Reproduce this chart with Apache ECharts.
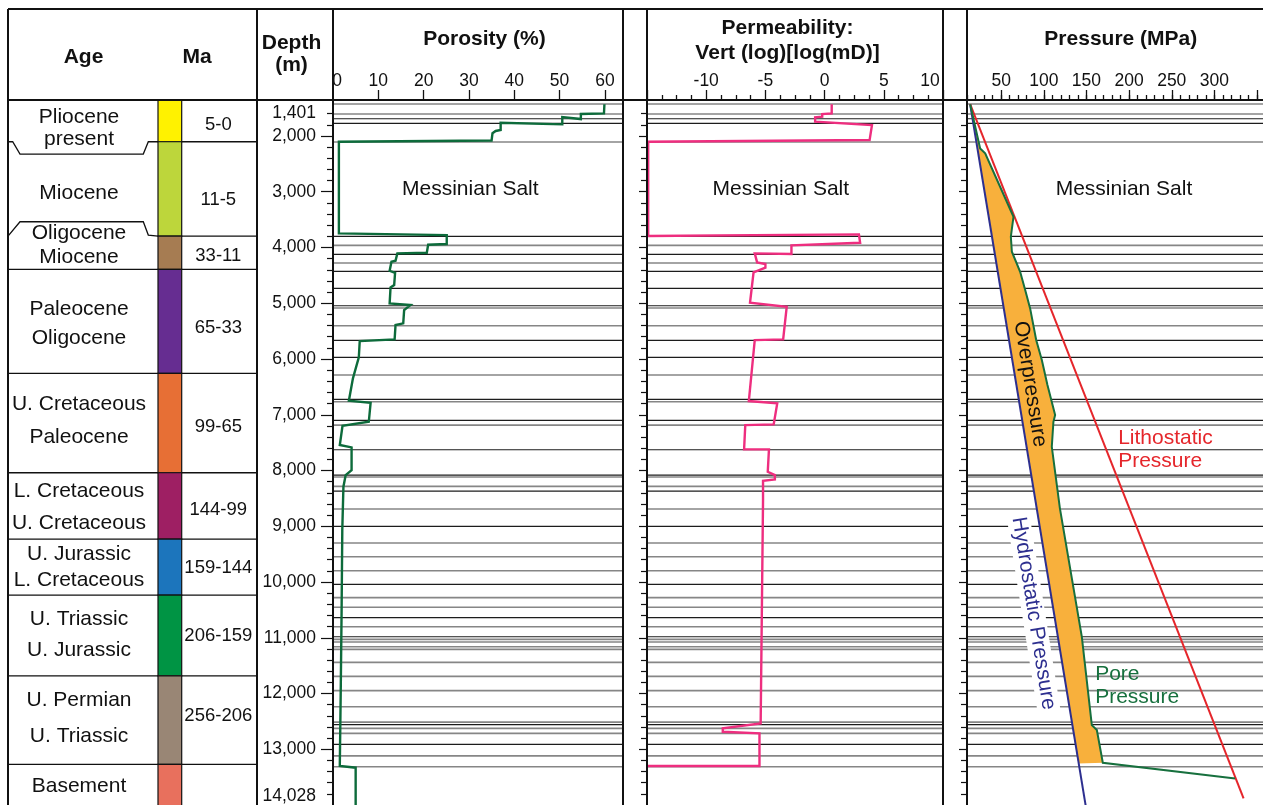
<!DOCTYPE html>
<html>
<head>
<meta charset="utf-8">
<title>Well log: porosity, permeability and pressure</title>
<script src="https://cdn.jsdelivr.net/npm/echarts@6/dist/echarts.min.js"></script>
<style>
  html, body { margin: 0; padding: 0; background: #ffffff; }
  #chart { width: 1263px; height: 805px; }
</style>
</head>
<body>
<div id="chart"></div>
<script>
// ---------------- data ----------------
const depthMin = 1401;      // sea floor (m)
const depthMax = 14028;     // total depth (m)
const depthLabels = [1401, 2000, 3000, 4000, 5000, 6000, 7000, 8000, 9000, 10000, 11000, 12000, 13000, 14028];
const depthMajorTicks = [2000, 3000, 4000, 5000, 6000, 7000, 8000, 9000, 10000, 11000, 12000, 13000];

// stratigraphic column, top to bottom
const unitAge = [
  ['Pliocene', 'present'], ['Miocene'], ['Oligocene', 'Miocene'], ['Paleocene', 'Oligocene'],
  ['U. Cretaceous', 'Paleocene'], ['L. Cretaceous', 'U. Cretaceous'], ['U. Jurassic', 'L. Cretaceous'],
  ['U. Triassic', 'U. Jurassic'], ['U. Permian', 'U. Triassic'], ['Basement']
];
const unitMa = ['5-0', '11-5', '33-11', '65-33', '99-65', '144-99', '159-144', '206-159', '256-206', ''];
const unitTop  = [1401, 2103, 3795, 4392, 6257, 8040, 9230, 10234, 11682, 13271];
const unitBase = [2103, 3795, 4392, 6257, 8040, 9230, 10234, 11682, 13271, 14028];
const unitBaseContact = ['unconformity-down', 'unconformity-up', 'conformable', 'conformable', 'conformable',
  'conformable', 'conformable', 'conformable', 'conformable'];
const unitColor = ['#fff200', '#bdd63b', '#a67c52', '#662d91', '#e76f35', '#9e1f63', '#1c75bc', '#009444', '#998675', '#e8705d'];

// mapped horizons (m) and whether each is a major surface
const horizonDepth = [1427, 1606, 1691, 1773, 2108, 3800, 3961, 4123, 4279, 4428, 4733, 5045, 5086, 5404, 5665, 5970,
  6288, 6724, 6767, 7100, 7185, 7628, 8082, 8117, 8284, 8369, 8691, 9002, 9301, 9547, 9798, 10042, 10279, 10453,
  10638, 10803, 10982, 11029, 11077, 11161, 11208, 11441, 11692, 11947, 12238, 12512, 12557, 12625, 12715, 12912,
  13118, 13314];
const horizonMajor = [0, 0, 1, 1, 0, 1, 0, 1, 0, 1, 1, 1, 0, 0, 1, 1,
  0, 1, 0, 1, 0, 1, 1, 0, 0, 1, 0, 1, 0, 0, 0, 1, 0, 0,
  1, 0, 1, 0, 0, 0, 0, 0, 0, 0, 0, 0, 1, 0, 0, 1,
  0, 0];

// porosity (%) against depth (m)
const porosityLabels = [0, 10, 20, 30, 40, 50, 60];
const porosityTicks = [10, 20, 30, 40, 50, 60];
const porosity = [
  [59.9, 1430], [59.8, 1594], [54.7, 1606], [54.7, 1696], [50.6, 1660], [50.6, 1791],
  [37.0, 1762], [37.0, 1893], [35.9, 1910], [35.9, 1942], [35.2, 1950], [35.0, 2080], [1.3, 2103],
  [1.3, 3746], [25.1, 3777], [25.1, 3938], [21.0, 3951], [20.7, 4094], [14.2, 4105], [13.8, 4238],
  [12.9, 4256], [12.5, 4417], [13.7, 4453], [13.5, 4673], [12.7, 4715], [12.5, 5002], [17.1, 5032],
  [15.7, 5122], [15.5, 5361], [13.8, 5391], [13.6, 5648], [5.9, 5678], [5.7, 5970], [4.4, 6347],
  [3.5, 6749], [8.3, 6785], [7.9, 7126], [2.1, 7197], [1.5, 7543], [4.1, 7585], [4.1, 7992],
  [2.8, 8082], [2.3, 8291], [2.05, 9068], [1.9, 10500], [1.7, 12000], [1.5, 13300], [5.0, 13330], [5.0, 14028]
];

// vertical permeability, log(mD), against depth (m)
const permeability = [
  [0.6, 1430], [0.6, 1594], [-0.2, 1606], [-0.2, 1655], [-0.8, 1665], [-0.8, 1744], [4.0, 1804], [3.8, 2073], [-14.9, 2103],
  [-14.9, 3795], [2.9, 3764], [3.0, 3915], [-2.8, 3961], [-2.8, 4117], [-5.9, 4105], [-5.7, 4267], [-5.0, 4297], [-5.0, 4363],
  [-6.0, 4446], [-6.3, 4991], [-3.2, 5063], [-3.5, 5648], [-5.9, 5660], [-6.4, 6754], [-4.0, 6796], [-4.3, 7172], [-6.7, 7185],
  [-6.8, 7621], [-4.7, 7621], [-4.8, 8022], [-4.2, 8082], [-4.2, 8159], [-5.2, 8184], [-5.2, 8530], [-5.4, 12535],
  [-8.6, 12625], [-8.6, 12686], [-5.5, 12715], [-5.5, 13301], [-15, 13301]
];

// pressure (MPa) against depth (m)
const pressureLabels = [50, 100, 150, 200, 250, 300];
const pressureMajorTicks = [50, 100, 150, 200, 250, 300, 350];
const lithostatic = [[13.7, 1430], [334.2, 13881]];
const hydrostatic = [[13.7, 1430], [149.3, 14028]];
const porePressure = [
  [13.7, 1430], [25.4, 2222], [31.3, 2311], [64.5, 3448], [61.4, 3807], [62.6, 4076], [72.3, 4435],
  [78.2, 4763], [84.0, 5092], [91.1, 5660], [97.7, 6019], [104.3, 6467], [113.3, 7005], [111.3, 7126],
  [109.4, 7574], [118.9, 8679], [144.6, 10982], [156.3, 12566], [162.2, 12656], [169.2, 13242], [324.3, 13522]
];
// outline of the overpressured interval (pore pressure down, hydrostatic back up)
const overpressure = [
  [13.7, 1430], [25.4, 2222], [31.3, 2311], [64.5, 3448], [61.4, 3807], [62.6, 4076], [72.3, 4435],
  [78.2, 4763], [84.0, 5092], [91.1, 5660], [97.7, 6019], [104.3, 6467], [113.3, 7005], [111.3, 7126],
  [109.4, 7574], [118.9, 8679], [144.6, 10982], [156.3, 12566], [162.2, 12656], [169.2, 13242],
  [140.5, 13253], [13.7, 1430]
];

// ---------------- layout & style ----------------
const FONT = '"Liberation Sans", Arial, Helvetica, sans-serif';
const INK = '#111111';
const FRAME_TOP = 9, HEADER_Y = 100, PAGE_BOTTOM = 805;
const PLOT_TOP = 102.6, PLOT_H = 704;
const AXIS_OFFSET = PLOT_TOP - HEADER_Y;

// text placement inside the stratigraphic column
const ageNudge   = [7, 4, -8, 2.5, -2.5, 1, 0, -0.5, -2, 0.5];
const ageLeading = [22, 24, 24, 29, 32.4, 32, 26.7, 30.7, 36, 24];
const maNudge    = [4, 11, 3.4, 7, 4.3, 4, 1.3, 0.6, -4, 0];

const fmtThousands = v => String(Math.round(v)).replace(/\B(?=(\d{3})+(?!\d))/g, ',');

const depthMinorTicks = [];
for (let d = 1600; d < depthMax; d += 200) if (d % 1000 !== 0) depthMinorTicks.push(d);

function textStyle(extra) {
  return Object.assign({
    fill: INK, fontFamily: FONT, fontSize: 21,
    align: 'center', verticalAlign: 'middle', textAlign: 'center', textVerticalAlign: 'middle'
  }, extra);
}

function depthAxis(gridIndex, tickValues, tickLength, withLabels) {
  const axis = {
    gridIndex: gridIndex, type: 'value', inverse: true, min: depthMin, max: depthMax, position: 'left',
    axisLine: { show: false, onZero: false }, splitLine: { show: false },
    axisTick: { show: true, inside: false, customValues: tickValues, length: tickLength, lineStyle: { color: INK, width: 1.2 } },
    axisLabel: { show: false }
  };
  if (withLabels) {
    const richBase = { fontSize: 17.5, fontFamily: FONT, color: INK };
    axis.axisLabel = {
      show: true, customValues: depthLabels, fontSize: 17.5, fontFamily: FONT, color: INK, margin: 17, hideOverlap: false,
      formatter: function (v) {
        if (Math.round(v) === depthMin) return '{down|' + fmtThousands(v) + '}';
        if (Math.round(v) === depthMax) return '{up|' + fmtThousands(v) + '}';
        return fmtThousands(v);
      },
      rich: {
        down: Object.assign({ padding: [21, 0, 0, 0] }, richBase),
        up: Object.assign({ padding: [0, 0, 21, 0] }, richBase)
      }
    };
  }
  return axis;
}

const topTickStyle = { color: INK, width: 1.3 };
const topLabel = { fontSize: 17.5, fontFamily: FONT, color: INK, margin: 10, hideOverlap: false };
const hiddenTopLine = { show: false, onZero: false };

// ---------------- custom renderers ----------------
function renderUnit(params, api) {
  const i = params.dataIndex;
  const cs = params.coordSys;
  const x0 = cs.x;
  const stripL = x0 + 150, stripR = x0 + 173.7, right = x0 + cs.width;
  const yTop = i === 0 ? HEADER_Y : api.coord([0.5, unitTop[i]])[1];
  const yBase = api.coord([0.5, unitBase[i]])[1];
  const mid = (yTop + yBase) / 2;
  const children = [
    { type: 'rect', shape: { x: stripL, y: yTop, width: stripR - stripL, height: yBase - yTop },
      style: { fill: unitColor[i], stroke: INK, lineWidth: 1.2 } },
    { type: 'text', x: x0 + 71, y: mid + ageNudge[i],
      style: textStyle({ text: unitAge[i].join('\n'), lineHeight: ageLeading[i] }) }
  ];
  if (unitMa[i]) {
    children.push({ type: 'text', x: x0 + 210.3, y: mid + maNudge[i],
      style: textStyle({ text: unitMa[i], fontSize: 18.5 }) });
  }
  if (i < unitBaseContact.length) {
    children.push({ type: 'line', shape: { x1: stripR, y1: yBase, x2: right, y2: yBase },
      style: { stroke: INK, lineWidth: 1.3 } });
    let pts;
    if (unitBaseContact[i] === 'unconformity-down') {
      pts = [[x0, yBase], [x0 + 4.7, yBase], [x0 + 12, yBase + 12.3], [x0 + 135.3, yBase + 12.3], [x0 + 140.3, yBase], [stripL, yBase]];
    } else if (unitBaseContact[i] === 'unconformity-up') {
      pts = [[x0, yBase], [x0 + 12, yBase - 14.3], [x0 + 135.3, yBase - 14.3], [x0 + 140.3, yBase - 1], [stripL, yBase]];
    } else {
      pts = [[x0, yBase], [stripL, yBase]];
    }
    children.push({ type: 'polyline', shape: { points: pts }, style: { stroke: INK, lineWidth: 1.3, fill: null } });
  }
  return { type: 'group', children: children };
}

function horizonSeries(xAxisIndex, yAxisIndex, xRef) {
  return {
    type: 'custom', xAxisIndex: xAxisIndex, yAxisIndex: yAxisIndex, z: 1, silent: true,
    data: horizonDepth.map(d => [xRef, d]),
    encode: { x: 0, y: 1 },
    renderItem: function (params, api) {
      const cs = params.coordSys;
      const y = api.coord([api.value(0), api.value(1)])[1];
      const major = horizonMajor[params.dataIndex];
      return { type: 'line', shape: { x1: cs.x, y1: y, x2: cs.x + cs.width, y2: y },
        style: { stroke: major ? '#1c1c1c' : '#868686', lineWidth: major ? 1.1 : 1.6 } };
    }
  };
}

function annotationSeries(xAxisIndex, yAxisIndex, items) {
  return {
    type: 'custom', xAxisIndex: xAxisIndex, yAxisIndex: yAxisIndex, z: 10, silent: true,
    data: items.map(a => a.at),
    encode: { x: 0, y: 1 },
    renderItem: function (params, api) {
      const a = items[params.dataIndex];
      const p = api.coord(a.at);
      const st = textStyle({ text: a.text, fill: a.color || INK, lineHeight: 23 });
      if (a.align) { st.align = a.align; st.textAlign = a.align; }
      if (a.background) { st.backgroundColor = a.background; st.padding = [0, 3]; }
      return { type: 'text', x: p[0], y: p[1], rotation: a.rotate || 0, style: st };
    }
  };
}

const TILT = -81 * Math.PI / 180;
const RED = '#e5262b', NAVY = '#2d2f8f', PORE_GREEN = '#17703e';

// ---------------- frame & headers ----------------
const frameX = [8, 257, 333, 623, 647, 943, 967];
const graphics = [
  { type: 'line', shape: { x1: 8, y1: FRAME_TOP, x2: 1263, y2: FRAME_TOP }, style: { stroke: INK, lineWidth: 2 } },
  { type: 'line', shape: { x1: 8, y1: HEADER_Y, x2: 1263, y2: HEADER_Y }, style: { stroke: INK, lineWidth: 2 } }
].concat(frameX.map(x => ({ type: 'line', shape: { x1: x, y1: FRAME_TOP, x2: x, y2: PAGE_BOTTOM }, style: { stroke: INK, lineWidth: 2 } })));

const headers = [
  ['Age', 83.5, 57], ['Ma', 197, 57], ['Depth', 291.5, 43], ['(m)', 291.5, 65],
  ['Porosity (%)', 484.5, 39.5], ['Permeability:', 787.5, 28.5], ['Vert (log)[log(mD)]', 787.5, 53.5],
  ['Pressure (MPa)', 1120.8, 39.5]
];
headers.forEach(h => graphics.push({
  type: 'text', x: h[1], y: h[2], z: 60,
  style: textStyle({ text: h[0], fontWeight: 'bold', fontSize: 21 })
}));
graphics.forEach(g => { g.silent = true; if (g.z == null) g.z = 50; });

// ---------------- chart ----------------
const chart = echarts.init(document.getElementById('chart'), null, { renderer: 'canvas' });

const option = {
  animation: false,
  backgroundColor: '#ffffff',
  textStyle: { fontFamily: FONT },
  grid: [
    { left: 8,   top: PLOT_TOP, width: 249,   height: PLOT_H, outerBoundsMode: 'none' },
    { left: 333, top: PLOT_TOP, width: 290,   height: PLOT_H, outerBoundsMode: 'none' },
    { left: 647, top: PLOT_TOP, width: 296,   height: PLOT_H, outerBoundsMode: 'none' },
    { left: 967, top: PLOT_TOP, width: 298.6, height: PLOT_H, outerBoundsMode: 'none' }
  ],
  xAxis: [
    { gridIndex: 0, type: 'value', min: 0, max: 1, show: false },
    { gridIndex: 1, type: 'value', position: 'top', min: 0, max: 64, offset: AXIS_OFFSET,
      axisLine: hiddenTopLine, splitLine: { show: false },
      axisTick: { show: true, customValues: porosityTicks, length: 10, lineStyle: topTickStyle },
      axisLabel: Object.assign({ customValues: porosityLabels,
        formatter: v => (v === 0 ? '{shift|0}' : String(v)),
        rich: { shift: { padding: [0, 0, 0, 8], fontSize: 17.5, fontFamily: FONT, color: INK } } }, topLabel) },
    { gridIndex: 2, type: 'value', position: 'top', min: -15, max: 10, interval: 5, offset: AXIS_OFFSET,
      axisLine: hiddenTopLine, splitLine: { show: false }, minorSplitLine: { show: false },
      axisTick: { show: true, length: 10, lineStyle: topTickStyle },
      minorTick: { show: true, splitNumber: 4, length: 5, lineStyle: topTickStyle },
      axisLabel: Object.assign({
        formatter: v => (v === -15 ? '' : (v === 10 ? '{shift|10}' : String(v))),
        rich: { shift: { padding: [0, 26, 0, 0], fontSize: 17.5, fontFamily: FONT, color: INK } } }, topLabel) },
    { gridIndex: 3, type: 'value', position: 'top', min: 10, max: 360, offset: AXIS_OFFSET,
      axisLine: hiddenTopLine, splitLine: { show: false },
      axisTick: { show: true, customValues: pressureMajorTicks, length: 10, lineStyle: topTickStyle },
      axisLabel: Object.assign({ customValues: pressureLabels }, topLabel) },
    { gridIndex: 3, type: 'value', position: 'top', min: 10, max: 360, interval: 10, offset: AXIS_OFFSET,
      axisLine: hiddenTopLine, splitLine: { show: false },
      axisTick: { show: true, length: 5, lineStyle: topTickStyle },
      axisLabel: { show: false } }
  ],
  yAxis: [
    { gridIndex: 0, type: 'value', inverse: true, min: depthMin, max: depthMax, show: false },
    depthAxis(1, depthMajorTicks, 12, true),
    depthAxis(1, depthMinorTicks, 6, false),
    depthAxis(2, depthMajorTicks, 8, false),
    depthAxis(2, depthMinorTicks, 6, false),
    depthAxis(3, depthMajorTicks, 8, false),
    depthAxis(3, depthMinorTicks, 6, false)
  ],
  series: [
    { type: 'custom', name: 'Stratigraphy', xAxisIndex: 0, yAxisIndex: 0, silent: true, clip: false,
      data: unitTop.map((t, i) => [0.5, t, unitBase[i]]), encode: { x: 0, y: [1, 2] }, renderItem: renderUnit },

    horizonSeries(1, 1, 1),
    horizonSeries(2, 3, 0),
    horizonSeries(3, 5, 100),

    { type: 'line', name: 'Porosity', xAxisIndex: 1, yAxisIndex: 1, data: porosity, z: 5,
      symbol: 'none', showSymbol: false, silent: true, lineStyle: { color: '#0d6b3b', width: 2.4, join: 'miter' } },
    { type: 'line', name: 'Permeability', xAxisIndex: 2, yAxisIndex: 3, data: permeability, z: 5,
      symbol: 'none', showSymbol: false, silent: true, lineStyle: { color: '#ee2e7f', width: 2.4, join: 'miter' } },

    { type: 'custom', name: 'Overpressure', xAxisIndex: 3, yAxisIndex: 5, z: 3, silent: true,
      data: overpressure, encode: { x: 0, y: 1 },
      renderItem: function (params, api) {
        if (params.dataIndex !== 0) return null;
        return { type: 'polygon', shape: { points: overpressure.map(p => api.coord(p)) }, style: { fill: '#f8b03c' } };
      } },
    { type: 'line', name: 'Hydrostatic Pressure', xAxisIndex: 3, yAxisIndex: 5, data: hydrostatic, z: 5,
      symbol: 'none', showSymbol: false, silent: true, lineStyle: { color: NAVY, width: 2 } },
    { type: 'line', name: 'Lithostatic Pressure', xAxisIndex: 3, yAxisIndex: 5, data: lithostatic, z: 5,
      symbol: 'none', showSymbol: false, silent: true, lineStyle: { color: RED, width: 2 } },
    { type: 'line', name: 'Pore Pressure', xAxisIndex: 3, yAxisIndex: 5, data: porePressure, z: 6,
      symbol: 'none', showSymbol: false, silent: true, lineStyle: { color: PORE_GREEN, width: 2, join: 'miter' } },

    annotationSeries(1, 1, [{ text: 'Messinian Salt', at: [30.3, 2949] }]),
    annotationSeries(2, 3, [{ text: 'Messinian Salt', at: [-3.7, 2949] }]),
    annotationSeries(3, 5, [
      { text: 'Messinian Salt', at: [194, 2949] },
      { text: 'Overpressure', at: [84.0, 6449], rotate: TILT },
      { text: 'Hydrostatic Pressure', at: [88.0, 10562], rotate: TILT, color: NAVY, background: '#ffffff' },
      { text: 'Lithostatic\nPressure', at: [187.2, 7624], align: 'left', color: RED },
      { text: 'Pore\nPressure', at: [160.2, 11857], align: 'left', color: PORE_GREEN }
    ])
  ],
  graphic: { elements: graphics }
};

chart.setOption(option);
</script>
</body>
</html>
